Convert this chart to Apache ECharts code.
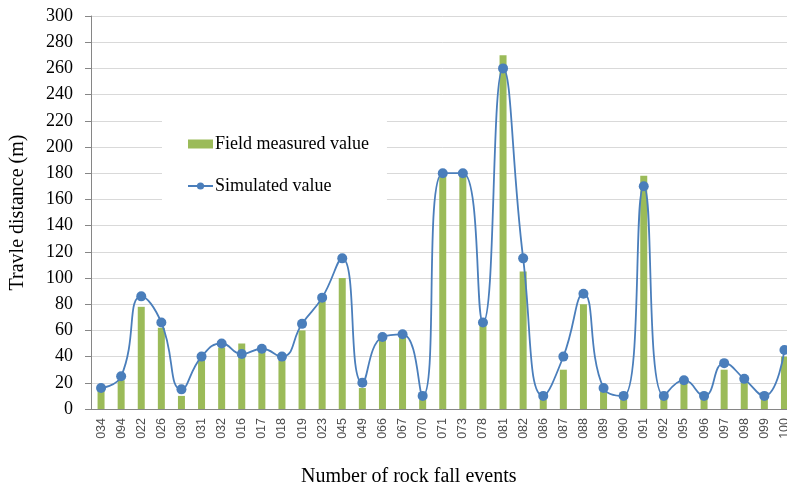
<!DOCTYPE html>
<html>
<head>
<meta charset="utf-8">
<script src="https://cdn.jsdelivr.net/npm/echarts@6/dist/echarts.min.js"></script>
<style>html,body{margin:0;padding:0;background:#fff;overflow:hidden;width:787px;height:488px;}#c{width:795px;height:488px;}</style>
</head>
<body>
<div id="c"></div>
<script>
var categories = ['034','094','022','026','030','031','032','016','017','018','019','023','045','049','066','067','070','071','073','078','081','082','086','087','088','089','090','091','092','095','096','097','098','099','100'];
var fieldMeasured = [14,22,78,62,10,37,47,50,44,37,60,82,100,16,53,55,7,178,178,64,270,105,7,30,80,13,7,178,8,20,8,30,20,8,40];
var simulated = [16,25,86,66,15,40,50,42,46,40,65,85,115,20,55,57,10,180,180,66,260,115,10,40,88,16,10,170,10,22,10,35,23,10,45];
var yTicks = {min:0, max:300, interval:20};

var chart = echarts.init(document.getElementById('c'));
var serif = '"Liberation Serif", "Times New Roman", serif';
chart.setOption({
  animation: false,
  backgroundColor: '#fff',
  grid: {left: 91, top: 16, right: 0.5, bottom: 79, containLabel: false},
  legend: {
    orient: 'vertical',
    left: 162, top: 107,
    padding: [28, 18, 15, 25],
    itemGap: 24,
    itemWidth: 25, itemHeight: 9,
    backgroundColor: '#fff',
    textStyle: {fontFamily: serif, fontSize: 18, color: '#000', padding: [0,0,0,-3]},
    data: [{name:'Field measured value', icon:'rect'}, {name:'Simulated value'}]
  },
  xAxis: {
    type: 'category',
    data: categories,
    boundaryGap: true,
    axisLine: {show: true, lineStyle: {color: '#868686', width: 1}},
    axisTick: {show: false},
    axisLabel: {rotate: 90, interval: 0, fontFamily: '"Liberation Sans", Arial, sans-serif', fontSize: 12.5, color: '#4d4d4d', margin: 9}
  },
  yAxis: {
    type: 'value',
    min: yTicks.min, max: yTicks.max, interval: yTicks.interval,
    name: 'Travle distance (m)',
    nameLocation: 'middle',
    nameGap: 63,
    nameTextStyle: {fontFamily: serif, fontSize: 20, color: '#000'},
    axisLine: {show: true, lineStyle: {color: '#868686', width: 1}},
    axisTick: {show: true, length: 6, lineStyle: {color: '#868686'}},
    axisLabel: {fontFamily: serif, fontSize: 18, color: '#000', margin: 18},
    splitLine: {show: true, lineStyle: {color: '#d9d9d9', width: 1}}
  },
  graphic: [{
    type: 'text', left: 301, top: 467,
    style: {text: 'Number of rock fall events', font: '20px ' + serif, fill: '#000'}
  }],
  series: [
    {
      name: 'Field measured value',
      type: 'bar',
      data: fieldMeasured,
      barWidth: 7,
      itemStyle: {color: '#9BBB59'}
    },
    {
      name: 'Simulated value',
      type: 'line',
      data: simulated,
      smooth: 0.5,
      symbol: 'circle',
      symbolSize: 10,
      lineStyle: {color: '#4A7EBB', width: 1.8},
      itemStyle: {color: '#4A7EBB'}
    }
  ]
});
</script>
</body>
</html>
